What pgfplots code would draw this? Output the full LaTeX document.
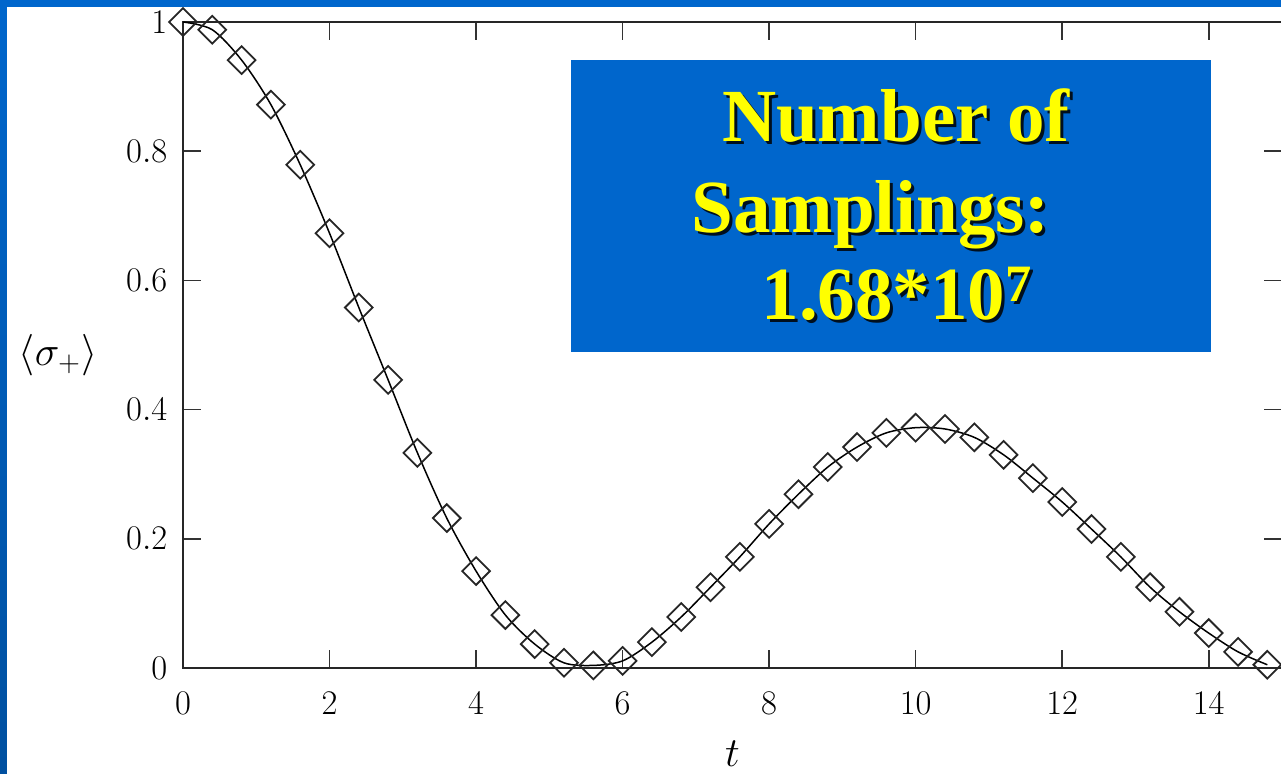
\documentclass[border=0pt]{standalone}
\usepackage{pgfplots}
\pgfplotsset{compat=1.18}
\usepackage{fontspec}
\newfontfamily\boxfont{Liberation Serif}
\definecolor{frametop}{RGB}{0,102,204}
\definecolor{framebot}{RGB}{0,80,160}
\definecolor{boxblue}{RGB}{0,102,204}
\definecolor{txtyellow}{RGB}{255,255,0}

% t, <sigma_+>
\pgfplotstableread{
t     s
0.0   1.000
0.4   0.988
0.8   0.941
1.2   0.872
1.6   0.779
2.0   0.673
2.4   0.558
2.8   0.446
3.2   0.333
3.6   0.232
4.0   0.150
4.4   0.082
4.8   0.037
5.2   0.008
5.6   0.004
6.0   0.011
6.4   0.040
6.8   0.079
7.2   0.125
7.6   0.172
8.0   0.223
8.4   0.269
8.8   0.311
9.2   0.342
9.6   0.364
10.0  0.372
10.4  0.370
10.8  0.357
11.2  0.330
11.6  0.294
12.0  0.257
12.4  0.215
12.8  0.172
13.2  0.125
13.6  0.087
14.0  0.054
14.4  0.025
14.8  0.005
}\sigmadata

\begin{document}
\begin{tikzpicture}[x=0.5pt, y=0.5pt]
  % slide frame, 1281 x 774 px
  \useasboundingbox (0,0) rectangle (1281,774);
  \shade[top color=frametop, bottom color=framebot] (0,0) rectangle (1281,774);
  \fill[white] (7,0) rectangle (1281,767);

  \begin{axis}[
    at={(91.5pt,53pt)}, anchor=south west,
    scale only axis,
    width=549.5pt, height=323pt,
    xmin=0, xmax=15, ymin=0, ymax=1,
    xtick={0,2,...,14},
    ytick={0,0.2,0.4,0.6,0.8,1},
    clip=false,
    axis line style={black!85, line width=1pt},
    major tick length=9pt,
    tick style={black!80, line width=0.8pt},
    tick label style={font=\fontsize{17.5}{20}\selectfont},
    xticklabel style={yshift=-8.5pt},
    yticklabel style={xshift=-4.3pt},
    xlabel={$t$},
    ylabel={$\langle\sigma_+\rangle$},
    every axis x label/.style={at={(rel axis cs:0.5,0)}, anchor=center,
      inner sep=0pt, yshift=-43pt, font=\fontsize{21}{24}\selectfont},
    every axis y label/.style={at={(rel axis cs:0,0.4845)}, anchor=center,
      xshift=-62.5pt, font=\fontsize{21}{24}\selectfont},
  ]
    \addplot[black, line width=0.75pt, smooth] table[x=t, y=s] {\sigmadata};
    \addplot[only marks, mark=square, mark size=4.9pt,
             mark options={rotate=45, black!85, line width=0.9pt, fill=none}]
      table[x=t, y=s] {\sigmadata};
  \end{axis}

  % annotation box
  \fill[boxblue] (571,422) rectangle (1211,714);
  \begin{scope}[every node/.style={inner sep=0pt, font=\boxfont\bfseries\fontsize{37.5}{40}\selectfont}]
    \node[anchor=base, black, opacity=0.85] at (899,629) {Number of};
    \node[anchor=base, txtyellow] at (896,632) {Number of};
    \node[anchor=base west, black, opacity=0.85] at (694,538) {Samplings:};
    \node[anchor=base west, txtyellow] at (691,541) {Samplings:};
    \node[anchor=base, black, opacity=0.85] at (900,451) {1.68*10\textsuperscript{7}};
    \node[anchor=base, txtyellow] at (897,454) {1.68*10\textsuperscript{7}};
  \end{scope}
\end{tikzpicture}
\end{document}
